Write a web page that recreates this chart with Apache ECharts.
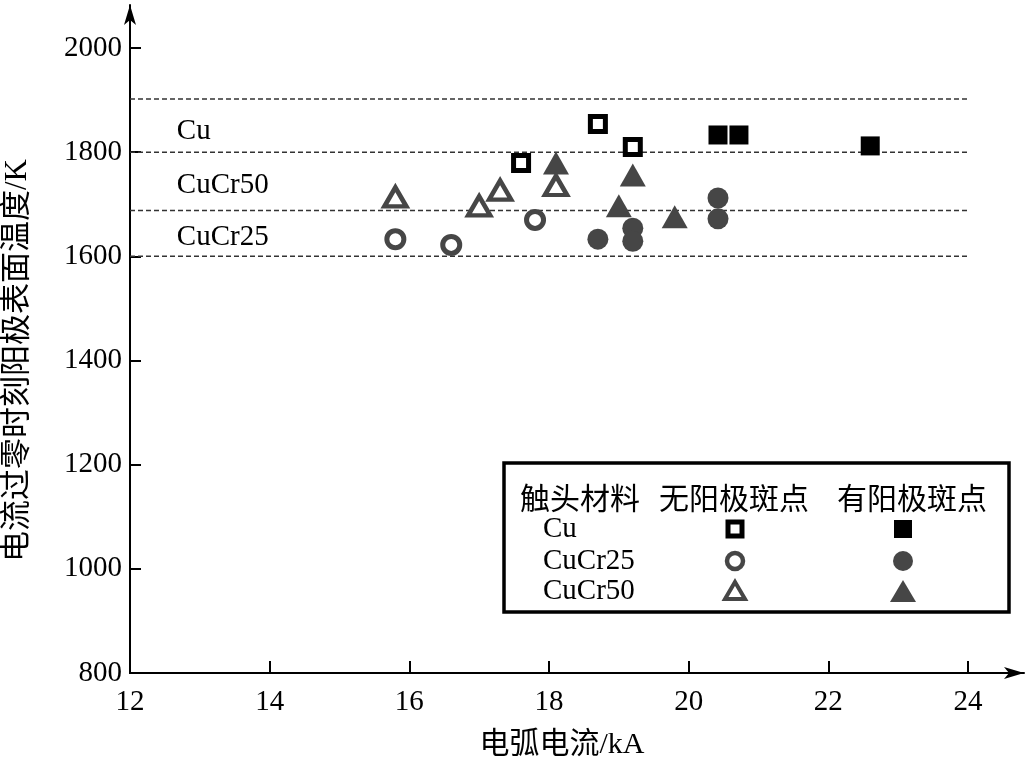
<!DOCTYPE html>
<html>
<head>
<meta charset="utf-8">
<script src="https://cdn.jsdelivr.net/npm/echarts@6/dist/echarts.min.js"></script>
<style>
html,body{margin:0;padding:0;background:#fff;}
#chart{width:1030px;height:761px;}
</style>
</head>
<body>
<div id="chart"></div>
<script>
// ---- data ----
var xTicks = {min: 12, max: 24, interval: 2};
var yTicks = {min: 800, max: 2000, interval: 200};

var cuNoX = [17.6, 18.7, 19.2];
var cuNoY = [1779, 1854, 1810];
var cuYesX = [20.42, 20.72, 22.6];
var cuYesY = [1833, 1833, 1812];

var cr25NoX = [15.8, 16.6, 17.8];
var cr25NoY = [1633, 1622, 1670];
var cr25YesX = [18.7, 19.2, 19.2, 20.42, 20.42];
var cr25YesY = [1633, 1654, 1629, 1712, 1672];

var cr50NoX = [15.8, 17.0, 17.3, 18.1];
var cr50NoY = [1714, 1697, 1727, 1736];
var cr50YesX = [18.1, 19.2, 19.0, 19.8];
var cr50YesY = [1779, 1756, 1697, 1676];

var boundaryY = [1600, 1688, 1800, 1902];
var boundaryXEnd = 24.27;

var regionNames = ['Cu', 'CuCr50', 'CuCr25'];
var regionLabelX = 12.67;
var regionLabelY = [1839, 1737, 1637];

var legendHeader = ['触头材料', '无阳极斑点', '有阳极斑点'];
var legendRows = ['Cu', 'CuCr25', 'CuCr50'];

var xName = '电弧电流/kA';
var yName = '电流过零时刻阳极表面温度/K';

// ---- helpers ----
function zip(xs, ys) { return xs.map(function (x, i) { return [x, ys[i]]; }); }
var SERIF = "'Liberation Serif', 'Times New Roman', 'Noto Sans CJK SC', serif";
var CJK = "'Noto Sans CJK SC', 'Liberation Serif', sans-serif";
var GRAY = '#464646';

var chart = echarts.init(document.getElementById('chart'), null, {renderer: 'canvas'});

var hollow = function (color, w) { return {color: '#fff', borderColor: color, borderWidth: w, opacity: 1}; };

// legend graphic
var lg = [];
lg.push({type: 'rect', shape: {x: 504, y: 463, width: 505, height: 149},
  style: {fill: '#fff', stroke: '#000', lineWidth: 3.5}, z: 10});
var headerX = [520, 659, 837];
legendHeader.forEach(function (t, i) {
  lg.push({type: 'text', x: headerX[i], y: 498, z: 11,
    style: {text: t, fill: '#000', font: '30px ' + CJK, textAlign: 'left', textVerticalAlign: 'middle', align: 'left', verticalAlign: 'middle'}});
});
var rowY = [529, 561, 591];
legendRows.forEach(function (t, i) {
  lg.push({type: 'text', x: 543, y: rowY[i], z: 11,
    style: {text: t, fill: '#000', font: '29px ' + SERIF, textAlign: 'left', textVerticalAlign: 'middle', align: 'left', verticalAlign: 'middle'}});
});
var c1 = 735, c2 = 903;
lg.push({type: 'rect', z: 11, shape: {x: c1 - 7, y: rowY[0] - 7, width: 14, height: 14}, style: {fill: '#fff', stroke: '#000', lineWidth: 5}});
lg.push({type: 'rect', z: 11, shape: {x: c2 - 9, y: rowY[0] - 9, width: 18, height: 18}, style: {fill: '#000'}});
lg.push({type: 'circle', z: 11, shape: {cx: c1, cy: rowY[1], r: 8}, style: {fill: '#fff', stroke: GRAY, lineWidth: 4.5}});
lg.push({type: 'circle', z: 11, shape: {cx: c2, cy: rowY[1], r: 10}, style: {fill: GRAY}});
lg.push({type: 'polygon', z: 11, shape: {points: [[c1, rowY[2] - 9], [c1 + 10, rowY[2] + 8], [c1 - 10, rowY[2] + 8]]}, style: {fill: '#fff', stroke: GRAY, lineWidth: 4, lineJoin: 'miter'}});
lg.push({type: 'polygon', z: 11, shape: {points: [[c2, rowY[2] - 11], [c2 + 13, rowY[2] + 11], [c2 - 13, rowY[2] + 11]]}, style: {fill: GRAY}});

var axisLineStyle = {color: '#000', width: 2};
var plainNum = function (v) { return String(v); };

var boundarySeries = boundaryY.map(function (y) {
  return {
    type: 'line', xAxisIndex: 0, yAxisIndex: 0, silent: true,
    data: [[xTicks.min, y], [boundaryXEnd, y]],
    symbol: 'none', showSymbol: false,
    lineStyle: {color: '#333', width: 1.5, type: [5, 3]},
    z: 1
  };
});

var option = {
  backgroundColor: '#fff',
  animation: false,
  grid: [
    {left: 130, right: 62, top: 48, bottom: 88, containLabel: false, outerBoundsMode: 'none'},
    {left: 130, right: 6, top: 5, bottom: 88, containLabel: false, outerBoundsMode: 'none'}
  ],
  xAxis: [
    {
      gridIndex: 0, type: 'value', min: xTicks.min, max: xTicks.max, interval: xTicks.interval,
      axisLine: {show: true, onZero: false, lineStyle: axisLineStyle},
      axisTick: {show: true, inside: true, length: 12, lineStyle: {color: '#000', width: 2}},
      axisLabel: {margin: 15, fontSize: 29, color: '#000', fontFamily: SERIF, formatter: plainNum},
      splitLine: {show: false},
      name: xName, nameLocation: 'middle', nameGap: 57,
      nameTextStyle: {fontSize: 30, color: '#000', fontFamily: SERIF, padding: [0, 0, 0, 26]}
    },
    {
      gridIndex: 1, type: 'value', min: 0, max: 1,
      axisLine: {show: true, onZero: false, lineStyle: axisLineStyle, symbol: ['none', 'arrow'], symbolSize: [9, 20], symbolOffset: [0, 0]},
      axisTick: {show: false}, axisLabel: {show: false}, splitLine: {show: false}
    }
  ],
  yAxis: [
    {
      gridIndex: 0, type: 'value', min: yTicks.min, max: yTicks.max, interval: yTicks.interval,
      axisLine: {show: true, onZero: false, lineStyle: axisLineStyle},
      axisTick: {show: true, inside: true, length: 11, lineStyle: {color: '#000', width: 2}},
      axisLabel: {margin: 8, fontSize: 29, color: '#000', fontFamily: SERIF, formatter: plainNum},
      splitLine: {show: false},
      name: yName, nameLocation: 'middle', nameGap: 97,
      nameTextStyle: {fontSize: 31, color: '#000', fontFamily: SERIF}
    },
    {
      gridIndex: 1, type: 'value', min: 0, max: 1,
      axisLine: {show: true, onZero: false, lineStyle: axisLineStyle, symbol: ['none', 'arrow'], symbolSize: [9, 20], symbolOffset: [0, 0]},
      axisTick: {show: false}, axisLabel: {show: false}, splitLine: {show: false}
    }
  ],
  series: boundarySeries.concat([
    {
      type: 'scatter', xAxisIndex: 0, yAxisIndex: 0, silent: true,
      data: regionNames.map(function (n, i) { return {name: n, value: [regionLabelX, regionLabelY[i]]}; }),
      symbolSize: 0,
      itemStyle: {opacity: 1},
      label: {show: true, position: 'right', distance: 0, formatter: '{b}', fontSize: 29, color: '#000', opacity: 1, fontFamily: SERIF},
      z: 2
    },
    {type: 'scatter', name: 'Cu 无', data: zip(cuNoX, cuNoY), symbol: 'rect', symbolSize: 15, itemStyle: hollow('#000', 5), z: 3},
    {type: 'scatter', name: 'Cu 有', data: zip(cuYesX, cuYesY), symbol: 'rect', symbolSize: 19, itemStyle: {color: '#000', opacity: 1}, z: 3},
    {type: 'scatter', name: 'CuCr25 无', data: zip(cr25NoX, cr25NoY), symbol: 'circle', symbolSize: 17, itemStyle: hollow(GRAY, 5), z: 3},
    {type: 'scatter', name: 'CuCr25 有', data: zip(cr25YesX, cr25YesY), symbol: 'circle', symbolSize: 21, itemStyle: {color: GRAY, opacity: 1}, z: 3},
    {type: 'scatter', name: 'CuCr50 无', data: zip(cr50NoX, cr50NoY), symbol: 'triangle', symbolSize: [22, 19], itemStyle: hollow(GRAY, 4.5), z: 3},
    {type: 'scatter', name: 'CuCr50 有', data: zip(cr50YesX, cr50YesY), symbol: 'triangle', symbolSize: [26, 23], itemStyle: {color: GRAY, opacity: 1}, z: 3}
  ]),
  graphic: lg
};
chart.setOption(option);
</script>
</body>
</html>
